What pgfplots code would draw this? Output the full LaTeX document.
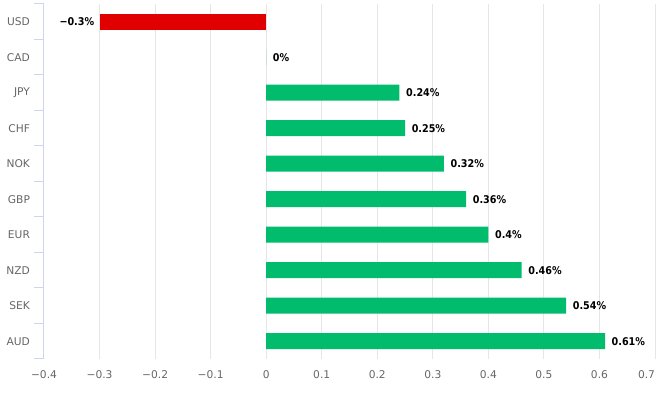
\documentclass[border=0pt]{standalone}
\usepackage{pgfplots}
\pgfplotsset{compat=1.18}
\usepackage{fontspec}
\setmainfont{DejaVu Sans}
\newfontfamily\labfont{DejaVu Sans Condensed}
\definecolor{barred}{HTML}{E10000}
\definecolor{bargreen}{HTML}{00BC6C}
\definecolor{gridcol}{HTML}{E6E6E6}
\definecolor{axiscol}{HTML}{CCD6EB}
\definecolor{labcol}{HTML}{666666}
\begin{document}
\begin{tikzpicture}
\begin{axis}[
  name=ax,
  scale only axis,
  width=458.25pt, height=266.25pt,
  xmin=-0.4, xmax=0.7,
  ymin=-0.5, ymax=9.5,
  separate axis lines,
  axis x line*=bottom,
  axis y line*=left,
  x axis line style={draw=none},
  y axis line style={draw=axiscol, line width=0.75pt},
  xtick={-0.4,-0.3,-0.2,-0.1,0,0.1,0.2,0.3,0.4,0.5,0.6,0.7},
  xticklabels={−0.4,−0.3,−0.2,−0.1,0,0.1,0.2,0.3,0.4,0.5,0.6,\llap{0.7}},
  xmajorgrids,
  major x grid style={draw=gridcol, line width=0.75pt},
  x tick style={draw=none},
  major tick length=0pt,
  ytick={0,...,9},
  yticklabels={AUD,SEK,NZD,EUR,GBP,NOK,CHF,JPY,CAD,USD},
  minor ytick={-0.5,0.5,...,9.5},
  minor tick length=7.5pt,
  tick align=outside,
  y tick style={draw=axiscol, line width=0.75pt},
  ticklabel style={font=\fontsize{8}{10}\selectfont, text=labcol},
  xticklabel style={yshift=-5.5pt},
  yticklabel style={xshift=-7pt},
  xbar, bar width=12pt, bar shift=0pt,
  point meta=explicit symbolic,
  nodes near coords,
  every node near coord/.append style={font=\labfont\fontsize{8}{10}\selectfont\bfseries, text=black, anchor=west, xshift=1.5pt},
]
\addplot[draw=none, fill=bargreen] coordinates {
  (0.61,0) [0.61\%]
  (0.54,1) [0.54\%]
  (0.46,2) [0.46\%]
  (0.40,3) [0.4\%]
  (0.36,4) [0.36\%]
  (0.32,5) [0.32\%]
  (0.25,6) [0.25\%]
  (0.24,7) [0.24\%]
  (0,8) [0\%]
};
\addplot[draw=none, fill=barred, every node near coord/.append style={anchor=east, xshift=-2pt}] coordinates {
  (-0.3,9) [−0.3\%]
};
\end{axis}
\pgfresetboundingbox
\path[use as bounding box] ([xshift=-33pt, yshift=-25.5pt]ax.south west) rectangle ([xshift=6pt, yshift=3pt]ax.north east);
\end{tikzpicture}
\end{document}
